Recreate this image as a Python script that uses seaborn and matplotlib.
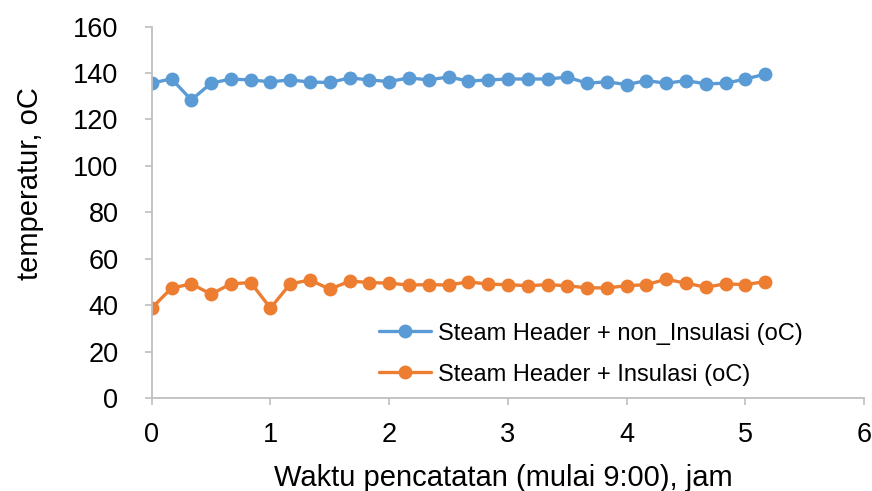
import matplotlib
matplotlib.use("Agg")
import matplotlib.pyplot as plt
import numpy as np
import pandas as pd
import seaborn as sns

# recording time in hours after 9:00 (every 10 minutes)
jam = [i / 6 for i in range(32)]

non_insulasi = [135.6, 137.5, 128.4, 135.6, 137.4, 137.0, 136.2, 137.0,
                136.1, 135.9, 137.9, 137.0, 136.3, 137.9, 137.0, 138.3,
                136.5, 137.0, 137.4, 137.4, 137.4, 138.2, 135.6, 136.2,
                135.0, 136.7, 135.6, 136.7, 135.3, 135.6, 137.4, 139.5]

insulasi = [38.8, 47.4, 49.2, 44.8, 49.2, 49.8, 38.8, 49.2,
            50.9, 46.9, 50.4, 49.8, 49.5, 48.7, 48.9, 48.7,
            50.1, 49.1, 48.9, 48.4, 48.9, 48.4, 47.5, 47.5,
            48.4, 48.9, 51.2, 49.5, 47.8, 49.2, 48.9, 50.2]

label_non = "Steam Header + non_Insulasi (oC)"
label_ins = "Steam Header + Insulasi (oC)"

df = pd.concat([
    pd.DataFrame({"jam": jam, "suhu": non_insulasi, "seri": label_non}),
    pd.DataFrame({"jam": jam, "suhu": insulasi, "seri": label_ins}),
])

sns.set_style("white")
plt.rcParams["font.family"] = ["Liberation Sans", "DejaVu Sans"]
plt.rcParams["text.color"] = "black"
plt.rcParams["axes.labelcolor"] = "black"
plt.rcParams["xtick.color"] = "black"
plt.rcParams["ytick.color"] = "black"

fig = plt.figure(figsize=(8.72, 4.91), dpi=100)
ax = fig.add_axes([0.174, 0.189, 0.817, 0.757])

sns.lineplot(
    data=df, x="jam", y="suhu", hue="seri",
    palette={label_non: "#5B9BD5", label_ins: "#ED7D31"},
    marker="o", markersize=10, markeredgewidth=0, linewidth=2.4,
    ax=ax,
)

ax.set_xlim(0, 6)
ax.set_ylim(0, 160)
ax.set_xticks(range(0, 7))
ax.set_yticks(range(0, 161, 20))
ax.tick_params(axis="both", labelsize=19.5, length=5, width=1.2,
               color="#BFBFBF", labelcolor="black", direction="out",
               bottom=True, left=True)
ax.tick_params(axis="y", pad=19)
ax.tick_params(axis="x", pad=12)

for side in ["top", "right"]:
    ax.spines[side].set_visible(False)
for side in ["left", "bottom"]:
    ax.spines[side].set_color("#BFBFBF")
    ax.spines[side].set_linewidth(1.3)

ax.set_xlabel("Waktu pencatatan (mulai 9:00), jam", fontsize=21, labelpad=12)
ax.set_ylabel("temperatur, oC", fontsize=21, labelpad=21)
ax.xaxis.label.set_x(0.494)
ax.yaxis.label.set_y(0.578)

ax.legend(
    loc="lower left", bbox_to_anchor=(0.302, 0.002), frameon=False,
    fontsize=17, handlelength=2.2, handletextpad=0.3, labelspacing=0.81,
    borderpad=0, title=None,
)

fig.savefig("out.png", dpi=100)
